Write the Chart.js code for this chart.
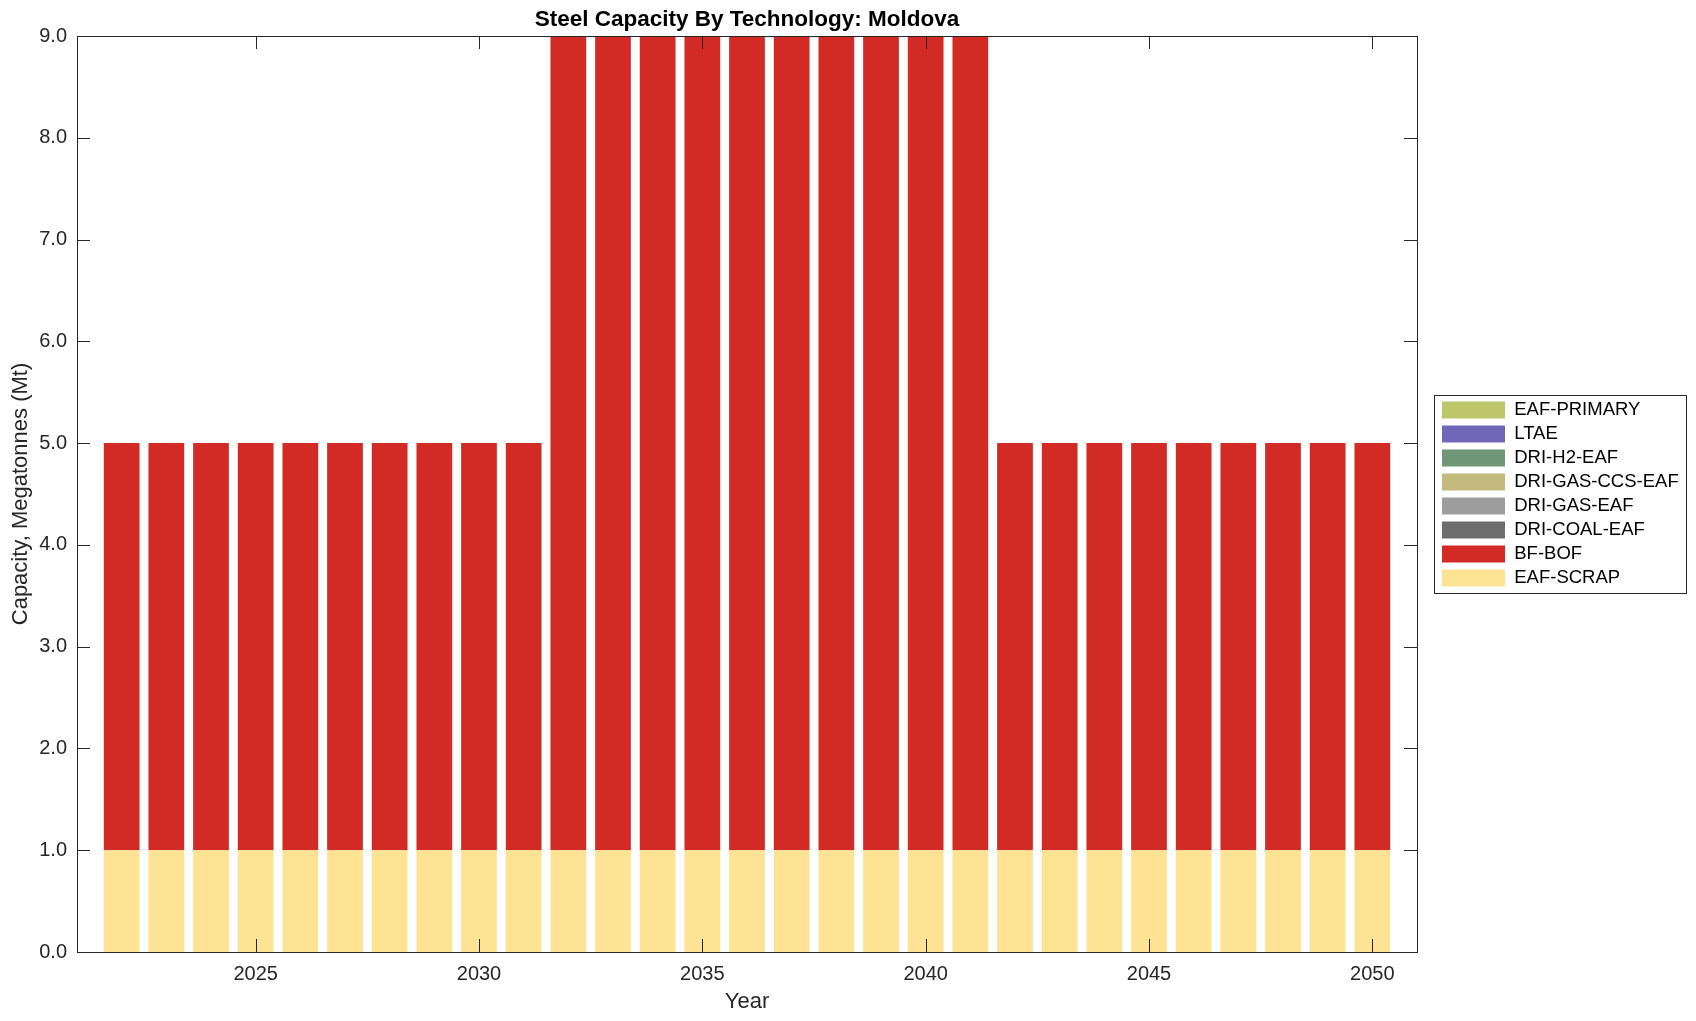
<!DOCTYPE html>
<html lang="en">
<head>
  <meta charset="UTF-8">
  <title>Steel Capacity By Technology: Moldova</title>
  <script src="https://cdn.jsdelivr.net/npm/chart.js"></script>
  <style>
    body {
      margin: 0;
      background: #fff;
    }
    #chart-container {
      width: 1696px;
      height: 1021px;
    }
  </style>
</head>
<body>
  <div id="chart-container">
    <canvas id="myChart" width="1696" height="1021"></canvas>
  </div>

  <script>
    // years 2022..2050
    const years = [2022, 2023, 2024, 2025, 2026, 2027, 2028, 2029, 2030, 2031,
                   2032, 2033, 2034, 2035, 2036, 2037, 2038, 2039, 2040, 2041,
                   2042, 2043, 2044, 2045, 2046, 2047, 2048, 2049, 2050];

    // capacity in Mt, bottom of the stack first
    const eafScrap   = [1, 1, 1, 1, 1, 1, 1, 1, 1, 1, 1, 1, 1, 1, 1, 1, 1, 1, 1, 1, 1, 1, 1, 1, 1, 1, 1, 1, 1];
    const bfBof      = [4, 4, 4, 4, 4, 4, 4, 4, 4, 4, 8, 8, 8, 8, 8, 8, 8, 8, 8, 8, 4, 4, 4, 4, 4, 4, 4, 4, 4];
    const driCoalEaf = [0, 0, 0, 0, 0, 0, 0, 0, 0, 0, 0, 0, 0, 0, 0, 0, 0, 0, 0, 0, 0, 0, 0, 0, 0, 0, 0, 0, 0];
    const driGasEaf  = [0, 0, 0, 0, 0, 0, 0, 0, 0, 0, 0, 0, 0, 0, 0, 0, 0, 0, 0, 0, 0, 0, 0, 0, 0, 0, 0, 0, 0];
    const driGasCcs  = [0, 0, 0, 0, 0, 0, 0, 0, 0, 0, 0, 0, 0, 0, 0, 0, 0, 0, 0, 0, 0, 0, 0, 0, 0, 0, 0, 0, 0];
    const driH2Eaf   = [0, 0, 0, 0, 0, 0, 0, 0, 0, 0, 0, 0, 0, 0, 0, 0, 0, 0, 0, 0, 0, 0, 0, 0, 0, 0, 0, 0, 0];
    const ltae       = [0, 0, 0, 0, 0, 0, 0, 0, 0, 0, 0, 0, 0, 0, 0, 0, 0, 0, 0, 0, 0, 0, 0, 0, 0, 0, 0, 0, 0];
    const eafPrimary = [0, 0, 0, 0, 0, 0, 0, 0, 0, 0, 0, 0, 0, 0, 0, 0, 0, 0, 0, 0, 0, 0, 0, 0, 0, 0, 0, 0, 0];

    const seriesNames  = ['EAF-SCRAP', 'BF-BOF', 'DRI-COAL-EAF', 'DRI-GAS-EAF', 'DRI-GAS-CCS-EAF', 'DRI-H2-EAF', 'LTAE', 'EAF-PRIMARY'];
    const seriesValues = [eafScrap, bfBof, driCoalEaf, driGasEaf, driGasCcs, driH2Eaf, ltae, eafPrimary];
    const seriesColors = ['#FEE395', '#D22B26', '#6E6E6E', '#9D9D9D', '#C3B97C', '#6F9677', '#7166B7', '#BEC66C'];

    const xTicks = [2025, 2030, 2035, 2040, 2045, 2050];
    const yTicks = [0, 1, 2, 3, 4, 5, 6, 7, 8, 9];

    const axisColor = '#262626';
    const fontFamily = "'Liberation Sans', Arial, Helvetica, sans-serif";

    let datasets = seriesNames.map((name, i) => ({
      label: name,
      data: years.map((y, j) => ({ x: y, y: seriesValues[i][j] })),
      backgroundColor: seriesColors[i],
      borderWidth: 0,
      barPercentage: 0.8,
      categoryPercentage: 1.0
    }));

    // legend gets a fixed width so the plot's right edge doesn't move with the text
    const legendWidth = {
      id: 'legendWidth',
      afterInit(chart) {
        const lg = chart.legend;
        if (!lg) return;
        const fit = lg.fit;
        lg.fit = function() {
          fit.call(this);
          this.width = 259.5;
        };
      }
    };

    // inward ticks on all four sides + the box round the plot
    const boxTicks = {
      id: 'boxTicks',
      afterDatasetsDraw(chart) {
        const ctx = chart.ctx;
        const a = chart.chartArea;
        const xs = chart.scales.x;
        const ys = chart.scales.y;
        const len = 13;
        ctx.save();
        ctx.strokeStyle = axisColor;
        ctx.lineWidth = 1;
        ctx.beginPath();
        xTicks.forEach(v => {
          const px = Math.round(xs.getPixelForValue(v)) + 0.5;
          ctx.moveTo(px, a.bottom); ctx.lineTo(px, a.bottom - len);
          ctx.moveTo(px, a.top); ctx.lineTo(px, a.top + len);
        });
        yTicks.forEach(v => {
          const py = Math.round(ys.getPixelForValue(v)) + 0.5;
          ctx.moveTo(a.left, py); ctx.lineTo(a.left + len, py);
          ctx.moveTo(a.right, py); ctx.lineTo(a.right - len, py);
        });
        ctx.stroke();
        ctx.strokeRect(Math.round(a.left) + 0.5, Math.round(a.top) + 0.5,
                       Math.round(a.right - a.left), Math.round(a.bottom - a.top));
        ctx.restore();
      }
    };

    // frame round the legend
    const legendFrame = {
      id: 'legendFrame',
      afterDraw(chart) {
        const lg = chart.legend;
        if (!lg || !lg.legendHitBoxes || !lg.legendHitBoxes.length) return;
        const hb = lg.legendHitBoxes;
        const first = hb[0];
        const last = hb[hb.length - 1];
        const left = Math.round(first.left - 8) + 0.5;
        const top = Math.round(first.top - 6) + 0.5;
        const bottom = Math.round(last.top + last.height + 6) + 0.5;
        const ctx = chart.ctx;
        ctx.save();
        ctx.strokeStyle = axisColor;
        ctx.lineWidth = 1;
        ctx.strokeRect(left, top, 252, bottom - top);
        ctx.restore();
      }
    };

    let ctx = document.getElementById('myChart').getContext('2d');
    let myChart = new Chart(ctx, {
      type: 'bar',
      data: { datasets: datasets },
      plugins: [legendWidth, boxTicks, legendFrame],
      options: {
        responsive: false,
        animation: false,
        devicePixelRatio: 1,
        layout: {
          padding: { left: 0, top: 0, bottom: 0, right: 0 }
        },
        plugins: {
          title: {
            display: true,
            fullSize: false,
            text: 'Steel Capacity By Technology: Moldova',
            color: '#000',
            font: { family: fontFamily, size: 22.5, weight: 'bold' },
            padding: { top: 6.2, bottom: 2.8 }
          },
          legend: {
            position: 'right',
            fullSize: false,
            reverse: true,
            labels: {
              boxWidth: 63,
              boxHeight: 17,
              padding: 5.5,
              color: '#000',
              font: { family: fontFamily, size: 18.5 }
            }
          },
          tooltip: { enabled: false }
        },
        scales: {
          x: {
            type: 'linear',
            stacked: true,
            offset: false,
            min: 2021,
            max: 2051,
            afterBuildTicks: s => { s.ticks = xTicks.map(v => ({ value: v })); },
            afterFit: s => { s.height = 69; },
            grid: { display: false, drawTicks: false },
            border: { display: false },
            ticks: {
              padding: 10,
              color: axisColor,
              font: { family: fontFamily, size: 20 },
              maxRotation: 0,
              callback: v => String(v)
            },
            title: {
              display: true,
              text: 'Year',
              color: axisColor,
              font: { family: fontFamily, size: 22 },
              padding: { top: 0, bottom: 6 }
            }
          },
          y: {
            stacked: true,
            min: 0,
            max: 9,
            afterFit: s => { s.width = 77; },
            grid: { display: false, drawTicks: false },
            border: { display: false },
            ticks: {
              stepSize: 1,
              padding: 10,
              color: axisColor,
              font: { family: fontFamily, size: 20 },
              callback: v => Number(v).toFixed(1)
            },
            title: {
              display: true,
              text: 'Capacity, Megatonnes (Mt)',
              color: axisColor,
              font: { family: fontFamily, size: 22 },
              padding: { top: 8, bottom: 0 }
            }
          },
          y2: {
            type: 'linear',
            position: 'right',
            min: 0,
            max: 9,
            afterFit: s => { s.width = 19.5; },
            grid: { display: false, drawTicks: false },
            border: { display: false },
            ticks: { display: false }
          }
        }
      }
    });
  </script>
</body>
</html>
